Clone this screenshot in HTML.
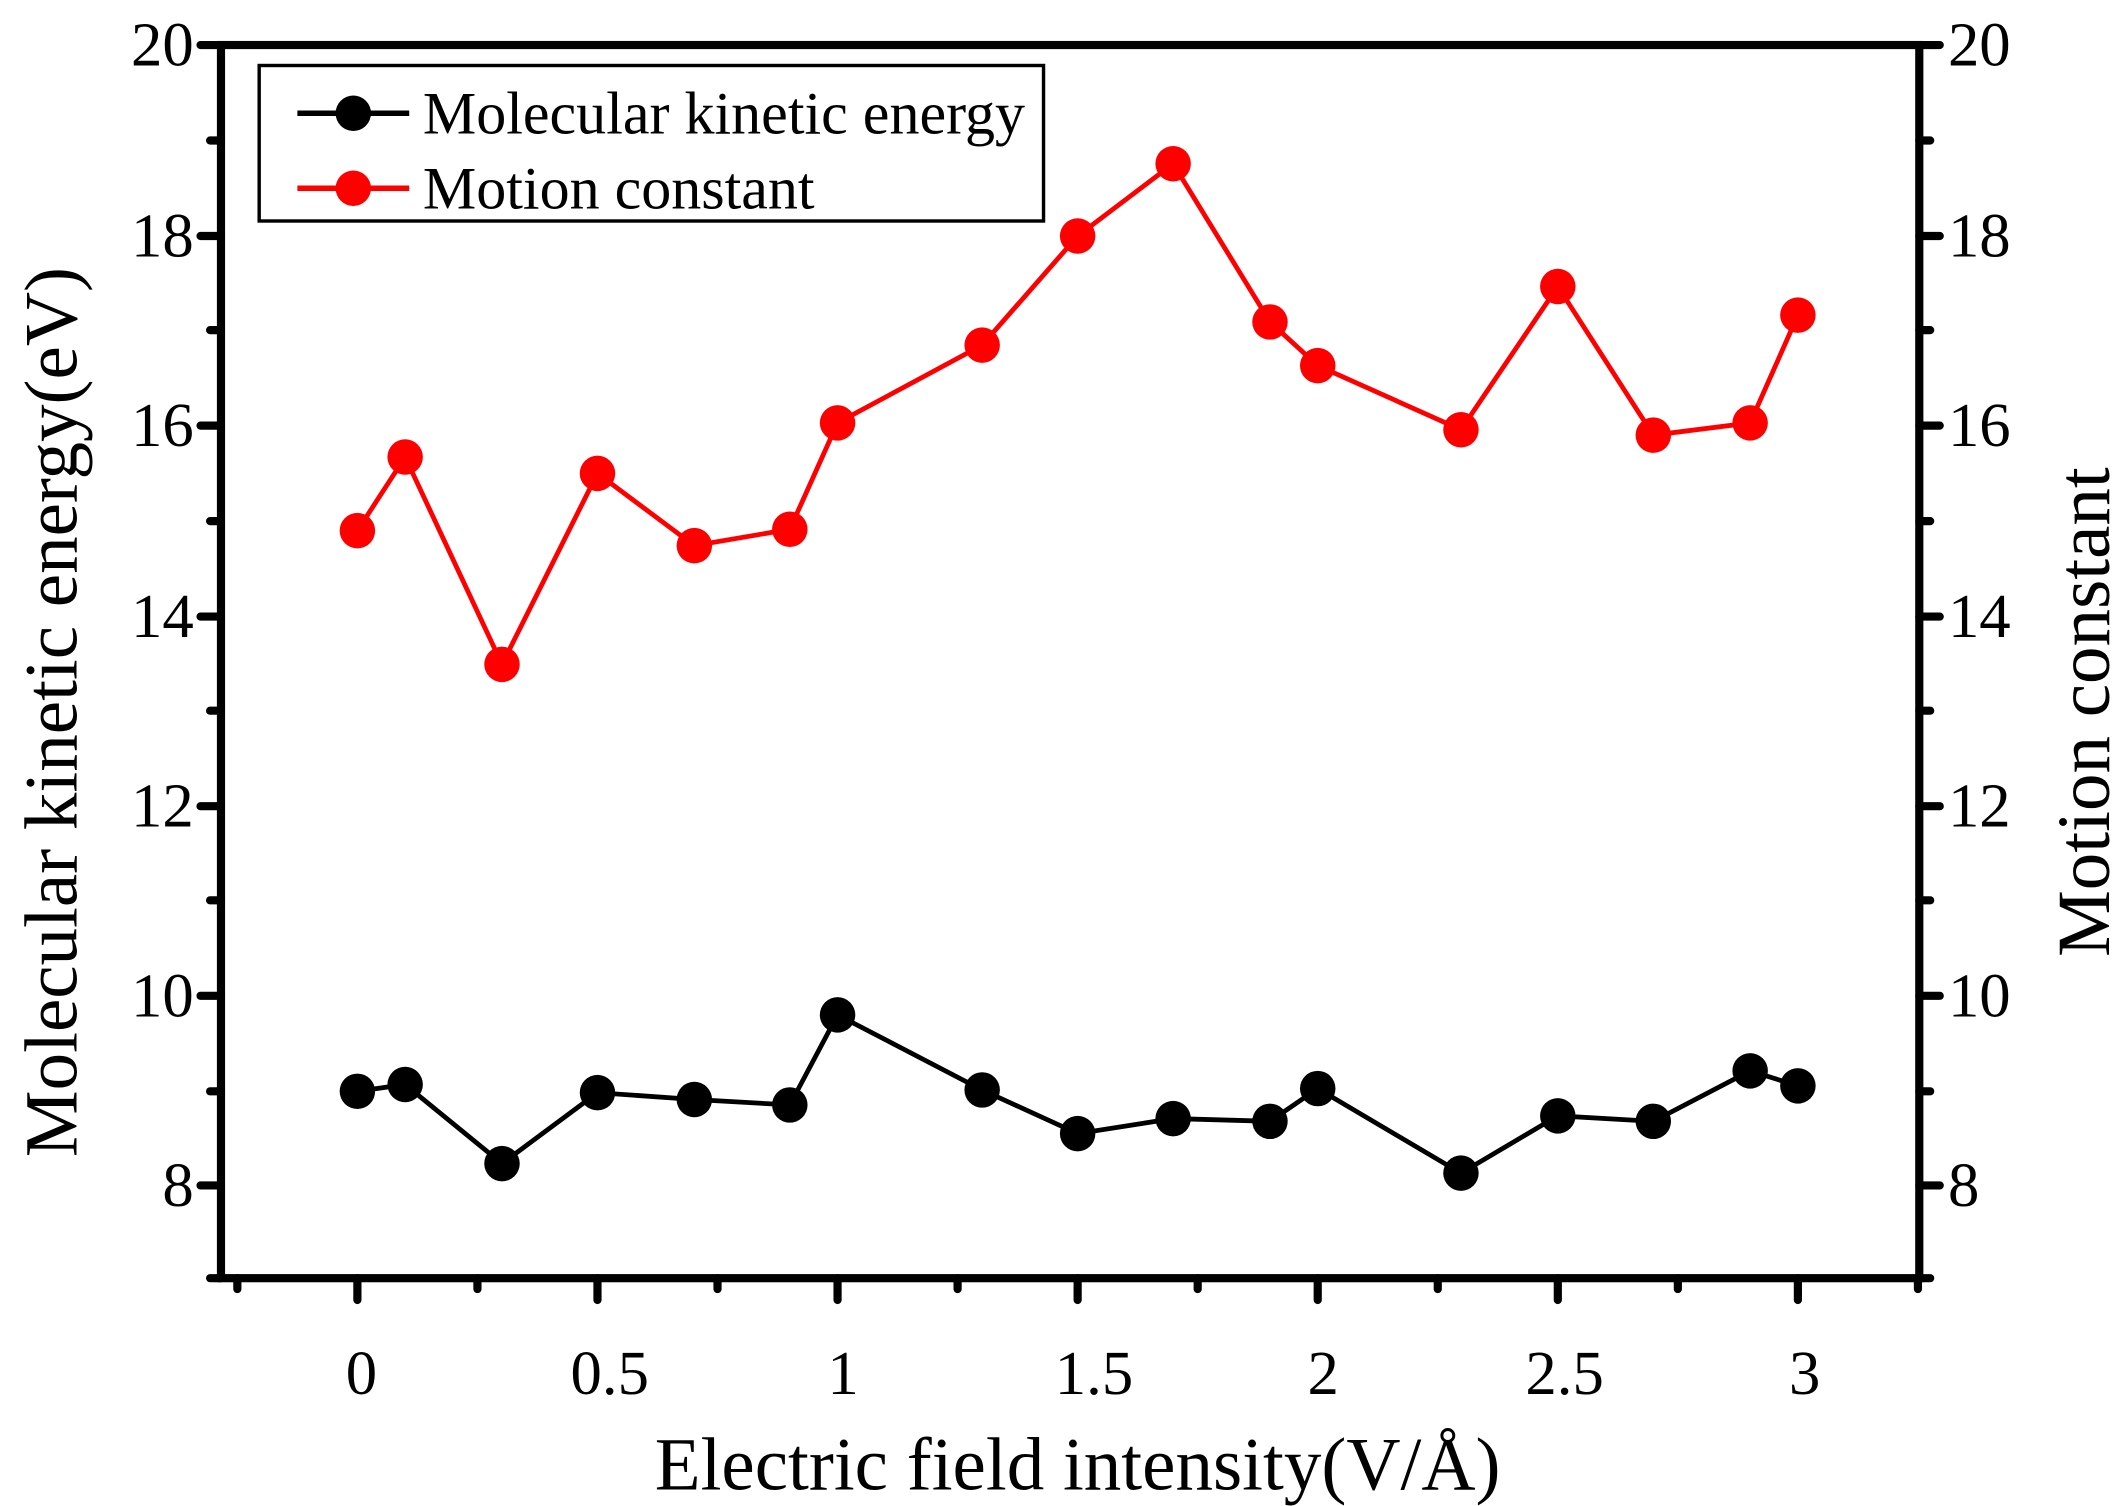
<!DOCTYPE html>
<html><head><style>html,body{margin:0;padding:0;background:#fff}svg{display:block}</style></head><body>
<svg width="2128" height="1506" viewBox="0 0 1560 1104" xmlns="http://www.w3.org/2000/svg" font-family="'Liberation Serif',serif">
<rect width="1560" height="1104" fill="#fff"/>
<g stroke="#000" stroke-width="6" stroke-linecap="round" fill="none">
<rect x="162" y="33" width="1245" height="904"/>
<path d="M162 33H147M162 173H147M162 312H147M162 452H147M162 591H147M162 730H147M162 869H147
M162 103H154M162 242H154M162 382H154M162 521H154M162 660H154M162 800H154M162 937H154
M1407 33H1422M1407 173H1422M1407 312H1422M1407 452H1422M1407 591H1422M1407 730H1422M1407 869H1422
M1407 103H1415M1407 242H1415M1407 382H1415M1407 521H1415M1407 660H1415M1407 800H1415M1407 937H1415
M262 937V953M438 937V953M614 937V953M790 937V953M966 937V953M1142 937V953M1318 937V953
M174 937V945M350 937V945M526 937V945M702 937V945M878 937V945M1054 937V945M1230 937V945M1406 937V945"/>
</g>
<g font-size="46" text-anchor="end">
<text x="142" y="48">20</text><text x="142" y="188">18</text><text x="142" y="327">16</text><text x="142" y="467">14</text><text x="142" y="606">12</text><text x="142" y="745">10</text><text x="142" y="884">8</text>
</g>
<g font-size="46" text-anchor="start">
<text x="1428" y="48">20</text><text x="1428" y="188">18</text><text x="1428" y="327">16</text><text x="1428" y="467">14</text><text x="1428" y="606">12</text><text x="1428" y="745">10</text><text x="1428" y="884">8</text>
</g>
<g font-size="46" text-anchor="middle">
<text x="265" y="1022">0</text><text x="447" y="1022">0.5</text><text x="618" y="1022">1</text><text x="802" y="1022">1.5</text><text x="970" y="1022">2</text><text x="1147" y="1022">2.5</text><text x="1323" y="1022">3</text>
</g>
<text x="790" y="1092" font-size="55" text-anchor="middle">Electric field intensity(V/Å)</text>
<text transform="translate(56,522) rotate(-90)" font-size="55" text-anchor="middle">Molecular kinetic energy(eV)</text>
<text transform="translate(1546,522) rotate(-90)" font-size="55" text-anchor="middle">Motion constant</text>
<g stroke-width="3.5" fill="none">
<polyline stroke="#000" points="262,800 297,795 368,853 438,801 509,806 579,810 614,744 720,799 790,831 860,820 931,822 966,798 1071,860 1142,818 1212,822 1283,785 1318,796"/>
<polyline stroke="#f00" points="262,389 297,335 368,487 438,347 509,400 579,388 614,310 720,253 790,173 860,120 931,236 966,268 1071,315 1142,210 1212,319 1283,310 1318,231"/>
</g>
<g fill="#000">
<circle cx="262" cy="800" r="13"/><circle cx="297" cy="795" r="13"/><circle cx="368" cy="853" r="13"/><circle cx="438" cy="801" r="13"/><circle cx="509" cy="806" r="13"/><circle cx="579" cy="810" r="13"/><circle cx="614" cy="744" r="13"/><circle cx="720" cy="799" r="13"/><circle cx="790" cy="831" r="13"/><circle cx="860" cy="820" r="13"/><circle cx="931" cy="822" r="13"/><circle cx="966" cy="798" r="13"/><circle cx="1071" cy="860" r="13"/><circle cx="1142" cy="818" r="13"/><circle cx="1212" cy="822" r="13"/><circle cx="1283" cy="785" r="13"/><circle cx="1318" cy="796" r="13"/>
</g>
<g fill="#f00">
<circle cx="262" cy="389" r="13"/><circle cx="297" cy="335" r="13"/><circle cx="368" cy="487" r="13"/><circle cx="438" cy="347" r="13"/><circle cx="509" cy="400" r="13"/><circle cx="579" cy="388" r="13"/><circle cx="614" cy="310" r="13"/><circle cx="720" cy="253" r="13"/><circle cx="790" cy="173" r="13"/><circle cx="860" cy="120" r="13"/><circle cx="931" cy="236" r="13"/><circle cx="966" cy="268" r="13"/><circle cx="1071" cy="315" r="13"/><circle cx="1142" cy="210" r="13"/><circle cx="1212" cy="319" r="13"/><circle cx="1283" cy="310" r="13"/><circle cx="1318" cy="231" r="13"/>
</g>
<rect x="190" y="48" width="575" height="114" fill="#fff" stroke="#000" stroke-width="2.5"/>
<line x1="218" y1="83" x2="300" y2="83" stroke="#000" stroke-width="4"/>
<circle cx="259" cy="83" r="13" fill="#000"/>
<line x1="218" y1="138" x2="300" y2="138" stroke="#f00" stroke-width="4"/>
<circle cx="259" cy="138" r="13" fill="#f00"/>
<text x="310" y="98" font-size="44">Molecular kinetic energy</text>
<text x="310" y="153" font-size="44">Motion constant</text>
</svg>
</body></html>
